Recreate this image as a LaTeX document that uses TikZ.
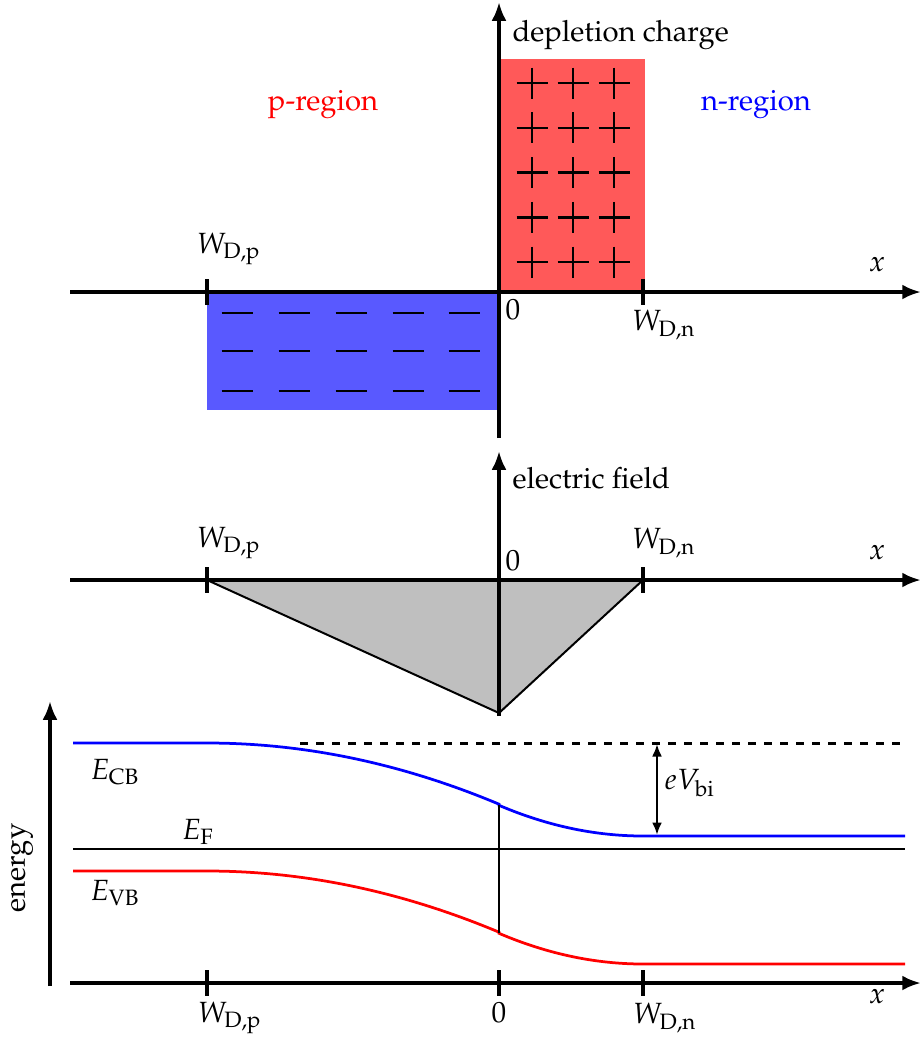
\documentclass[tikz,border=0pt]{standalone}
\usepackage[T1]{fontenc}
\usepackage{mathpazo}
\usetikzlibrary{arrows.meta}
\begin{document}
\begin{tikzpicture}[x=0.4pt,y=-0.4pt,
  font=\fontsize{11.7}{14}\selectfont,
  axis/.style={line width=1.9pt,-{Latex[length=7.5pt,width=6pt]}},
  tickmark/.style={line width=1.9pt},
  band/.style={line width=1.1pt},
  thinline/.style={line width=0.8pt},
  lbl/.style={inner sep=0pt}]
\useasboundingbox (0,0) rectangle (923,1041);
% ---------- top panel: depletion charge ----------
\fill[red!65] (501,59) rectangle (645,292);
\fill[blue!65] (207,292) rectangle (499,410);
\foreach \px in {532,573,614}
  \foreach \py in {83,127.75,172.5,217.25,262}
    \draw[line width=1pt] (\px-15.5,\py) -- (\px+15.5,\py) (\px,\py-15.5) -- (\px,\py+15.5);
\foreach \mx in {237,294,351,408,464}
  \foreach \my in {313,351,391}
    \draw[line width=1pt] (\mx-15.5,\my) -- (\mx+15.5,\my);
\coordinate (x1s) at (70,292);  \coordinate (x1e) at (921,292);
\coordinate (y1s) at (499,438); \coordinate (y1e) at (499,2);
\draw[axis] (x1s) -- (x1e);
\draw[axis] (y1s) -- (y1e);
\draw[tickmark] (207,279) -- (207,305);
\draw[tickmark] (643,279) -- (643,305);
\node[lbl,anchor=base west] (dc) at (512,41) {depletion charge};
\node[lbl,text=red] (preg) at (323,104) {p-region};
\node[lbl,text=blue] (nreg) at (756,104) {n-region};
\node[lbl] (wp1) at (229,249) {$W_{\mathrm{D,p}}$};
\node[lbl] (x1) at (877,265) {$x$};
\node[lbl] (z1) at (513,310) {$0$};
\node[lbl] (wn1) at (664,325) {$W_{\mathrm{D,n}}$};
% ---------- middle panel: electric field ----------
\filldraw[fill=black!25,draw=black,line width=0.8pt] (207,580) -- (499,713) -- (643,580) -- cycle;
\coordinate (x2s) at (70,580);  \coordinate (x2e) at (921,580);
\coordinate (y2s) at (499,716); \coordinate (y2e) at (499,451);
\draw[axis] (x2s) -- (x2e);
\draw[axis] (y2s) -- (y2e);
\draw[tickmark] (207,567) -- (207,593);
\draw[tickmark] (643,567) -- (643,593);
\node[lbl,anchor=base west] (ef) at (512,488) {electric field};
\node[lbl] (wp2) at (229,543) {$W_{\mathrm{D,p}}$};
\node[lbl] (z2) at (513,561) {$0$};
\node[lbl] (wn2) at (664,543) {$W_{\mathrm{D,n}}$};
\node[lbl] (x2) at (877,553) {$x$};
% ---------- bottom panel: band diagram ----------
\coordinate (x3s) at (70,983);  \coordinate (x3e) at (921,983);
\coordinate (y3s) at (50,986);  \coordinate (y3e) at (50,701);
\draw[axis] (x3s) -- (x3e);
\draw[axis] (y3s) -- (y3e);
\draw[tickmark] (207,970) -- (207,996);
\draw[tickmark] (499,970) -- (499,996);
\draw[tickmark] (643,970) -- (643,996);
\node[lbl] (wp3) at (230,1018) {$W_{\mathrm{D,p}}$};
\node[lbl] (z3) at (499,1013) {$0$};
\node[lbl] (wn3) at (665,1018) {$W_{\mathrm{D,n}}$};
\node[lbl] (x3) at (877,997) {$x$};
\node[lbl,rotate=90] (en) at (22,868) {energy};
% Fermi level
\coordinate (fs) at (73,849); \coordinate (fe) at (905,849);
\draw[thinline] (fs) -- (fe);
\node[lbl] (efl) at (198,832) {$E_{\mathrm{F}}$};
% conduction band
\draw[band,blue] (73,743) -- (207,743)
  -- plot[domain=207:499,samples=40] (\x,{743+7.305e-4*(\x-207)*(\x-207)})
  -- plot[domain=499:643,samples=30] (\x,{836-1.4813e-3*(643-\x)*(643-\x)})
  -- (905,836);
% valence band
\draw[band,red] (73,871) -- (207,871)
  -- plot[domain=207:499,samples=40] (\x,{871+7.305e-4*(\x-207)*(\x-207)})
  -- plot[domain=499:643,samples=30] (\x,{964-1.4813e-3*(643-\x)*(643-\x)})
  -- (905,964);
\coordinate (cbm) at (499,805.3); \coordinate (vbm) at (499,933.3);
\draw[thinline] (cbm) -- (vbm);
\node[lbl] (ecb) at (115,772) {$E_{\mathrm{CB}}$};
\node[lbl] (evb) at (115,893) {$E_{\mathrm{VB}}$};
% built-in potential
\coordinate (ds) at (300,743); \coordinate (de) at (905,743);
\draw[line width=1.2pt,dash pattern=on 3.2pt off 3.2pt] (ds) -- (de);
\coordinate (vt) at (657,744); \coordinate (vb) at (657,835);
\draw[line width=1pt,{Latex[length=5pt,width=4pt]}-{Latex[length=5pt,width=4pt]}] (vt) -- (vb);
\node[lbl] (evbi) at (690,783) {$eV_{\mathrm{bi}}$};
\end{tikzpicture}
\end{document}
